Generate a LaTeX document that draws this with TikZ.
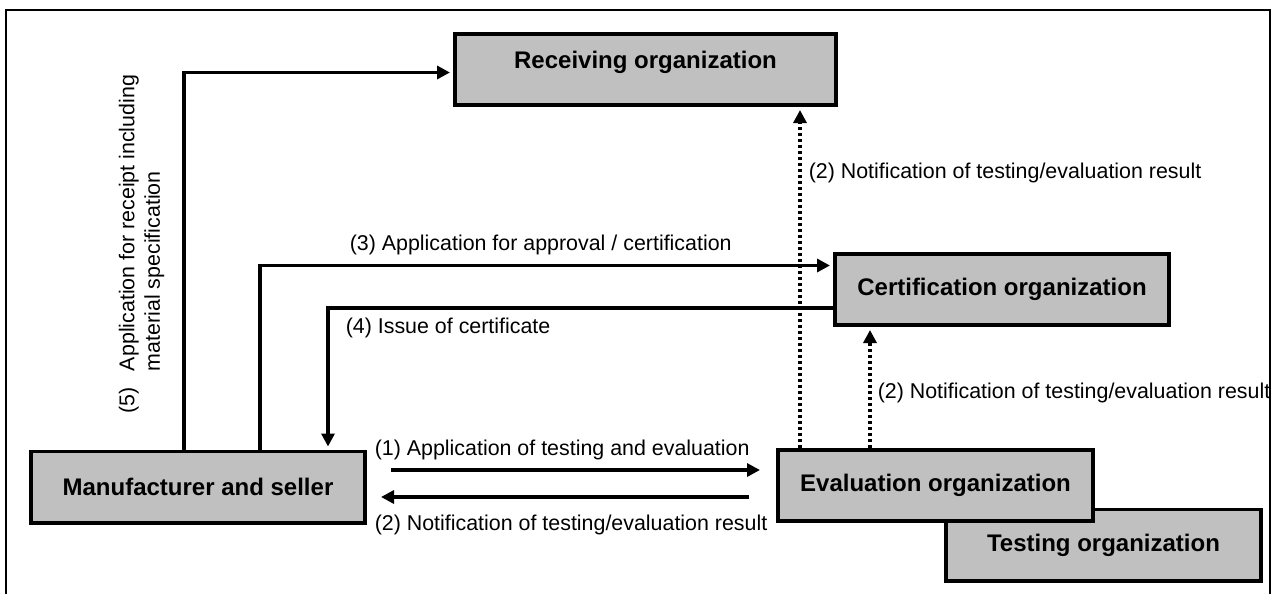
\documentclass[tikz,border=0pt]{standalone}
\usepackage{fontspec}
\setmainfont{Liberation Sans}
\usepackage{xcolor}
\usepackage{tikz}
\usetikzlibrary{arrows.meta}
\usetikzlibrary{calc, positioning}
\definecolor{boxgray}{RGB}{192,192,192}
\tikzstyle{orgbox}=[rectangle, draw, fill=boxgray, line width=1.8pt, minimum height=35.7pt, font=\fontsize{12pt}{14pt}\selectfont\bfseries]
\tikzstyle{lbl}=[anchor=base west, inner sep=0pt]
\tikzstyle{dotarrow}=[->, shorten >=1.5pt, line width=1.6pt, dash pattern=on 1.6pt off 1.4pt]

\begin{document}
\begin{tikzpicture}[x=0.5pt, y=-0.5pt]
\tikzset{>={Triangle[length=6.5pt, width=6.5pt]}}

\tikzset{every node/.style={font=\fontsize{10.7pt}{12.8pt}\selectfont}}

%  all lines
\tikzset{every path/.style={line width=1.8pt}}

\useasboundingbox (0,0) rectangle (1281,594);

% outer frame (bottom edge is cut off)
\draw[line width=1pt] (6,600) -- (6,10) -- (1270,10) -- (1270,600);

% Boxes
\node[orgbox, minimum width=157.7pt] (test) at (1103.5,545) {Testing organization};
\node[orgbox, minimum width=157.7pt] (eval) at (935.5,485.5) {Evaluation organization};
\node[orgbox, minimum width=167.2pt] (mfr) at (198,487) {Manufacturer and seller};
\node[orgbox, minimum width=190.7pt, text depth=10pt] (recv) at (645.5,69.5) {Receiving organization};
\node[orgbox, minimum width=167.2pt] (cert) at (1002,289.5) {Certification organization};

% (1) and (2) between manufacturer and evaluation
\coordinate (a1s) at ($(mfr.east)+(24,-17)$);
\coordinate (a1e) at ($(eval.west)+(-16,-15.5)$);
\coordinate (a2s) at ($(eval.west)+(-27,11.5)$);
\coordinate (a2e) at ($(mfr.east)+(14,10)$);
\draw[->] (a1s) -- (a1e);
\draw[->] (a2s) -- (a2e);

% (3) (4) (5)
\draw[->, shorten >=1.5pt] ($(mfr.north)+(-14,0)$) |- ([yshift=-1.5pt]recv.west);
\draw[->, shorten >=1.5pt] ($(mfr.north)+(62,0)$) |- ([yshift=12pt]cert.west);
\draw[->, shorten >=1.5pt] ([yshift=-9.25pt]cert.west) -| ($(mfr.north)+(130,0)$);

% dotted notifications
\coordinate (d1) at ($(eval.north)+(-135.5,0)$);
\coordinate (d2) at ($(eval.north)+(-65.5,0)$);
\draw[dotarrow] (d1) -- (d1 |- recv.south);
\draw[dotarrow] (d2) -- (d2 |- cert.south);

% Labels
\node[lbl] (lab1) at (373,455) {(1) Application of testing and evaluation};
\node[lbl] (lab2) at (373,530) {(2) Notification of testing/evaluation result};
\node[lbl] (lab2r) at (807,178) {(2) Notification of testing/evaluation result};
\node[lbl] (lab2c) at (876,398) {(2) Notification of testing/evaluation result};
\node[lbl] (lab3) at (348,250) {(3) Application for approval / certification};
\node[lbl] (lab4) at (344,333) {(4) Issue of certificate};
\node[rotate=90, anchor=north west, align=left, inner sep=0pt] (lab5) at (117,415)
    {(5)\hspace{8pt}Application for receipt including\\\phantom{(5)}\hspace{8pt}material specification};

\end{tikzpicture}
\end{document}
